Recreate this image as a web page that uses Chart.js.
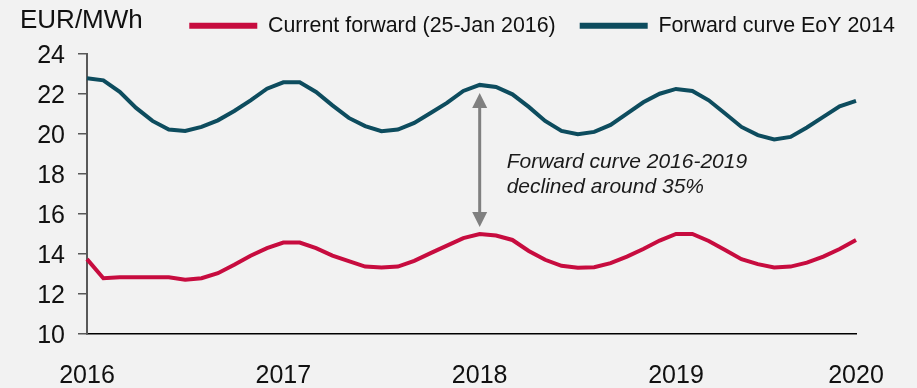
<!DOCTYPE html>
<html>
<head>
<meta charset="utf-8">
<script src="https://cdn.jsdelivr.net/npm/chart.js@4/dist/chart.umd.min.js"></script>
<style>
  html, body { margin: 0; padding: 0; background: #F2F2F2; }
  #wrap { width: 917px; height: 388px; position: relative; }
</style>
</head>
<body>
<div id="wrap"><canvas id="c" width="917" height="388"></canvas></div>
<script>
// Monthly categories, Jan 2016 – Dec 2019
const months = [
  'Jan 2016','Feb 2016','Mar 2016','Apr 2016','May 2016','Jun 2016','Jul 2016','Aug 2016','Sep 2016','Oct 2016','Nov 2016','Dec 2016',
  'Jan 2017','Feb 2017','Mar 2017','Apr 2017','May 2017','Jun 2017','Jul 2017','Aug 2017','Sep 2017','Oct 2017','Nov 2017','Dec 2017',
  'Jan 2018','Feb 2018','Mar 2018','Apr 2018','May 2018','Jun 2018','Jul 2018','Aug 2018','Sep 2018','Oct 2018','Nov 2018','Dec 2018',
  'Jan 2019','Feb 2019','Mar 2019','Apr 2019','May 2019','Jun 2019','Jul 2019','Aug 2019','Sep 2019','Oct 2019','Nov 2019','Dec 2019'
];

// EUR/MWh
const currentForward = [
  13.74, 12.79, 12.84, 12.84, 12.84, 12.84, 12.71, 12.79, 13.04, 13.46, 13.91, 14.29,
  14.57, 14.57, 14.29, 13.92, 13.64, 13.37, 13.32, 13.37, 13.66, 14.04, 14.42, 14.79,
  15.00, 14.92, 14.70, 14.15, 13.71, 13.41, 13.31, 13.34, 13.54, 13.87, 14.25, 14.67,
  15.00, 15.00, 14.65, 14.20, 13.74, 13.49, 13.32, 13.37, 13.57, 13.87, 14.25, 14.70
];
const forwardEoY2014 = [
  22.78, 22.68, 22.10, 21.30, 20.65, 20.22, 20.15, 20.35, 20.68, 21.15, 21.68, 22.26,
  22.58, 22.58, 22.10, 21.43, 20.80, 20.39, 20.14, 20.22, 20.55, 21.05, 21.55, 22.15,
  22.45, 22.35, 21.98, 21.35, 20.65, 20.15, 19.99, 20.10, 20.45, 21.02, 21.58, 22.01,
  22.25, 22.15, 21.68, 21.02, 20.35, 19.94, 19.72, 19.85, 20.32, 20.85, 21.38, 21.65
];

const seriesNames = ['Current forward (25-Jan 2016)', 'Forward curve EoY 2014'];
const yearLabels = ['2016', '2017', '2018', '2019', '2020'];
const unitLabel = 'EUR/MWh';
const noteLines = ['Forward curve 2016-2019', 'declined around 35%'];
const noteIndex = 24;   // category where the comparison arrow sits

const RED = '#C70C3F';
const TEAL = '#0D4C5E';
const FONT = "'Liberation Sans', Arial, sans-serif";

// Background fill for the whole canvas
const bgPlugin = {
  id: 'bg',
  beforeDraw(chart) {
    const ctx = chart.ctx;
    ctx.save();
    ctx.fillStyle = '#F2F2F2';
    ctx.fillRect(0, 0, chart.width, chart.height);
    ctx.restore();
  }
};

// Extra room below the legend row
const legendGap = {
  id: 'legendGap',
  beforeInit(chart) {
    const fit = chart.legend.fit;
    chart.legend.fit = function () {
      fit.bind(chart.legend)();
      this.height += 7.5;
    };
  }
};

// Unit caption, arrow and note
const notePlugin = {
  id: 'note',
  afterDatasetsDraw(chart) {
    const ctx = chart.ctx;
    const xs = chart.scales.x, ys = chart.scales.y;
    const area = chart.chartArea;
    ctx.save();

    ctx.fillStyle = '#111';
    ctx.font = '26px ' + FONT;
    ctx.textAlign = 'left';
    ctx.textBaseline = 'alphabetic';
    ctx.fillText(unitLabel, area.left - 67, 28);

    const x = xs.getPixelForValue(noteIndex);
    const yTop = ys.getPixelForValue(forwardEoY2014[noteIndex]) + 8;
    const yBot = ys.getPixelForValue(currentForward[noteIndex]) - 7;
    const head = 15, half = 7.5;
    ctx.strokeStyle = '#808080';
    ctx.fillStyle = '#808080';
    ctx.lineWidth = 3;
    ctx.beginPath();
    ctx.moveTo(x, yTop + head - 1);
    ctx.lineTo(x, yBot - head + 1);
    ctx.stroke();
    ctx.beginPath();
    ctx.moveTo(x, yTop); ctx.lineTo(x - half, yTop + head); ctx.lineTo(x + half, yTop + head);
    ctx.closePath(); ctx.fill();
    ctx.beginPath();
    ctx.moveTo(x, yBot); ctx.lineTo(x - half, yBot - head); ctx.lineTo(x + half, yBot - head);
    ctx.closePath(); ctx.fill();

    ctx.fillStyle = '#1a1a1a';
    ctx.font = 'italic 21px ' + FONT;
    const tx = x + 27;
    const ty = ys.getPixelForValue(18.29);
    ctx.fillText(noteLines[0], tx, ty);
    ctx.fillText(noteLines[1], tx, ty + 25);
    ctx.restore();
  }
};

new Chart(document.getElementById('c'), {
  type: 'line',
  data: {
    labels: months,
    datasets: [
      {
        label: seriesNames[0],
        data: currentForward,
        borderColor: RED,
        backgroundColor: RED,
        borderWidth: 4,
        pointRadius: 0,
        tension: 0,
        fill: false
      },
      {
        label: seriesNames[1],
        data: forwardEoY2014,
        borderColor: TEAL,
        backgroundColor: TEAL,
        borderWidth: 4,
        pointRadius: 0,
        tension: 0,
        fill: false
      }
    ]
  },
  options: {
    responsive: false,
    animation: false,
    layout: { padding: { top: -9, bottom: -30, left: 0, right: -2 } },
    plugins: {
      tooltip: { enabled: false },
      legend: {
        display: true,
        position: 'top',
        align: 'end',
        labels: {
          boxWidth: 68,
          boxHeight: 6,
          padding: 24,
          color: '#111',
          font: { family: FONT, size: 21.4 },
          generateLabels(chart) {
            return Chart.defaults.plugins.legend.labels.generateLabels(chart)
              .map(l => Object.assign(l, { lineWidth: 0 }));
          }
        }
      }
    },
    scales: {
      x: {
        type: 'category',
        offset: false,
        grid: { display: false, drawTicks: false },
        border: { display: true, color: '#000', width: 1.5 },
        ticks: {
          autoSkip: false,
          maxRotation: 0,
          minRotation: 0,
          padding: 27,
          color: '#111',
          font: { family: FONT, size: 25 },
          callback(value, index) {
            if (index % 12 === 0) return yearLabels[index / 12];
            if (index === months.length - 1) return yearLabels[yearLabels.length - 1];
            return null;
          }
        }
      },
      y: {
        position: 'left',
        min: 10,
        max: 24,
        afterFit(scale) { scale.width = 87; },
        grid: {
          display: true,
          drawOnChartArea: false,
          drawTicks: true,
          tickLength: 9,
          color: '#595959',
          lineWidth: 1.5
        },
        border: { display: true, color: '#595959', width: 2 },
        ticks: {
          stepSize: 2,
          padding: 13,
          labelOffset: 2,
          color: '#111',
          font: { family: FONT, size: 25 }
        }
      },
      gutter: {
        type: 'linear',
        position: 'right',
        display: true,
        afterFit(scale) { scale.width = 63; },
        grid: { display: false, drawTicks: false },
        border: { display: false },
        ticks: { display: false }
      }
    }
  },
  plugins: [bgPlugin, legendGap, notePlugin]
});
</script>
</body>
</html>
